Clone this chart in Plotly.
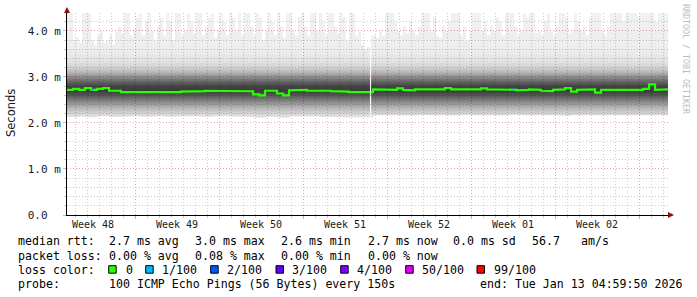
import plotly.graph_objects as go

# ---------------- data ----------------
WEEK_LABELS = ["Week 48", "Week 49", "Week 50", "Week 51", "Week 52", "Week 01", "Week 02"]
FIRST_WEEK_START = -1.333      # day offset (from chart start) of the Monday starting "Week 48"
CHART_DAYS = 50.08             # length of the time axis in days
SAMPLE_DAYS = 0.5              # interval of MEDIAN_RTT / MIN_RTT / LOSS samples
MAX_SAMPLE_DAYS = 0.25         # interval of MAX_RTT samples
GAP = (25.25, 25.34)           # no data in this interval (days)

Y_TICKS = [0, 1, 2, 3, 4]
Y_TICK_TEXT = ["0.0\u00a0\u00a0", "1.0 m", "2.0 m", "3.0 m", "4.0 m"]
Y_MAX = 4.39

# median round-trip time, ms
MEDIAN_RTT = [
    2.72, 2.74, 2.72, 2.76, 2.72, 2.74, 2.76, 2.70, 2.70, 2.67,
    2.66, 2.66, 2.66, 2.66, 2.66, 2.66, 2.66, 2.67, 2.67, 2.68,
    2.68, 2.68, 2.69, 2.70, 2.70, 2.70, 2.70, 2.70, 2.69, 2.70,
    2.69, 2.62, 2.60, 2.70, 2.70, 2.64, 2.60, 2.71, 2.72, 2.72,
    2.70, 2.71, 2.70, 2.70, 2.69, 2.69, 2.68, 2.67, 2.67, 2.67,
    2.67, 2.73, 2.73, 2.73, 2.72, 2.75, 2.72, 2.71, 2.73, 2.72,
    2.73, 2.72, 2.73, 2.76, 2.73, 2.73, 2.74, 2.73, 2.73, 2.75,
    2.73, 2.73, 2.72, 2.72, 2.72, 2.71, 2.72, 2.73, 2.72, 2.70,
    2.69, 2.72, 2.73, 2.76, 2.68, 2.72, 2.73, 2.73, 2.66, 2.72,
    2.72, 2.73, 2.72, 2.73, 2.73, 2.72, 2.74, 2.84, 2.72, 2.73,
    2.73,
]

# lost pings (out of 100) per sample
LOSS = [0] * 101
LOSS[4] = 1
LOSS[74] = 1

# fastest ping per sample, ms
MIN_RTT = [
    2.13, 2.12, 2.14, 2.13, 2.12, 2.14, 2.15, 2.13, 2.14, 2.13,
    2.14, 2.15, 2.14, 2.13, 2.14, 2.15, 2.14, 2.13, 2.14, 2.15,
    2.14, 2.15, 2.14, 2.13, 2.14, 2.15, 2.15, 2.14, 2.13, 2.14,
    2.13, 2.12, 2.11, 2.13, 2.13, 2.12, 2.11, 2.14, 2.14, 2.13,
    2.13, 2.14, 2.13, 2.12, 2.13, 2.12, 2.12, 2.11, 2.12, 2.12,
    2.12, 2.17, 2.16, 2.17, 2.16, 2.17, 2.17, 2.16, 2.17, 2.18,
    2.17, 2.16, 2.17, 2.17, 2.16, 2.17, 2.18, 2.17, 2.17, 2.16,
    2.17, 2.17, 2.16, 2.17, 2.17, 2.18, 2.17, 2.16, 2.17, 2.17,
    2.16, 2.17, 2.16, 2.15, 2.17, 2.17, 2.16, 2.17, 2.17, 2.16,
    2.17, 2.17, 2.16, 2.17, 2.17, 2.16, 2.17, 2.17, 2.16, 2.17,
    2.17,
]

# slowest ping per sample, ms (values above the axis top are clipped)
MAX_RTT = [
    4.6, 4.6, 3.8, 3.85, 3.75, 4.6, 4.6, 4.5, 3.8, 3.7,
    3.9, 4.0, 3.75, 3.8, 3.9, 3.7, 4.0, 4.1, 3.95, 4.5,
    4.6, 3.9, 4.05, 4.3, 4.4, 3.9, 4.2, 4.6, 4.0, 3.8,
    4.1, 4.3, 3.9, 4.6, 4.2, 3.8, 4.4, 4.6, 3.9, 4.0,
    4.6, 4.2, 3.95, 4.4, 4.6, 3.9, 4.1, 4.3, 4.6, 3.85,
    4.0, 4.5, 4.2, 3.9, 4.6, 4.3, 4.0, 4.4, 3.9, 4.6,
    4.6, 4.1, 3.9, 4.6, 4.3, 3.8, 4.0, 4.6, 4.2, 3.9,
    4.5, 4.1, 3.85, 4.6, 4.6, 4.0, 3.9, 4.3, 4.6, 4.1,
    3.9, 4.6, 4.4, 4.0, 4.6, 4.2, 3.9, 4.5, 4.6, 4.1,
    3.95, 4.6, 4.3, 3.8, 4.6, 4.5, 3.9, 4.0, 3.7, 3.6,
    3.65, 3.9,
    3.9, 3.85, 4.0, 3.9, 4.6, 4.5, 4.6, 4.2, 4.0, 3.9,
    4.1, 3.95, 4.2, 4.0, 3.9, 4.1, 4.6, 4.5,
    4.6, 4.0, 4.3, 3.9, 3.85, 4.1, 4.0, 4.2, 4.6, 4.6,
    4.4, 3.9, 4.1, 3.8, 4.0, 4.6, 4.5, 4.6, 4.0, 4.2,
    3.9, 4.1, 4.0, 4.3, 4.2, 3.9, 4.6, 4.4, 4.6, 4.1,
    3.9, 4.0, 4.6, 4.3, 4.6, 4.5, 3.95, 4.0, 3.9, 4.2,
    4.6, 4.0, 3.9, 4.1, 4.6, 4.6, 4.3, 3.95, 4.0, 4.6,
    4.2, 4.0, 4.1, 3.9, 4.3, 4.6, 4.5, 4.6, 4.0, 3.9,
    4.1, 4.6, 4.6, 4.4, 4.6, 4.2, 4.6, 4.6, 4.5, 4.6,
    4.3, 4.6, 4.6, 4.4, 4.6, 4.6, 4.2, 4.6, 4.6, 4.5,
    4.6,
]

LOSS_LEVELS = [0, 1, 2, 3, 4, 50, 99]
LOSS_LABELS = ["0", "1/100", "2/100", "3/100", "4/100", "50/100", "99/100"]
LOSS_COLORS = ["#26ff00", "#00b8ff", "#0059ff", "#5e00ff", "#7e00ff", "#dd00ff", "#ff0000"]

LEGEND_ROWS = [
    [("median rtt:", 16), ("2.7 ms avg", 107.3), ("3.0 ms max", 193.3), ("2.6 ms min", 279.3),
     ("2.7 ms now", 366), ("0.0 ms sd", 451), ("56.7", 530), ("am/s", 579.3)],
    [("packet loss:", 16), ("0.00 % avg", 107.3), ("0.08 % max", 193.3), ("0.00 % min", 279.3),
     ("0.00 % now", 366)],
    [("loss color:", 16)],
    [("probe:", 16), ("100 ICMP Echo Pings (56 Bytes) every 150s", 107.3),
     ("end: Tue Jan 13 04:59:50 2026", 478.3)],
]
LEGEND_ROW_Y = [241.5, 255.5, 269.5, 283.5]
SWATCH_X = [108.7, 145.7, 210.7, 276, 340.7, 405.7, 477]
SWATCH_LABEL_X = [123.5, 160, 225, 290, 355, 420, 491.7]

# smoke shading: (ms, darkness)
SMOKE_SHADES = [(2.10, 0.09), (2.20, 0.16), (2.30, 0.26), (2.40, 0.38), (2.50, 0.52),
                (2.60, 0.66), (2.70, 0.77), (2.80, 0.73), (2.90, 0.60), (3.00, 0.44),
                (3.10, 0.29), (3.20, 0.18), (3.35, 0.11), (3.60, 0.07), (4.40, 0.055)]

# ---------------- geometry ----------------
W, H = 697, 297
ML, MR, MT, MB = 67, 29, 13, 82
PW, PH = W - ML - MR, H - MT - MB
MONO = "DejaVu Sans Mono"


def pxx(x):
    return (x - ML) / PW


def pxy(y):
    return (H - MB - y) / PH


def steps(values, dt, lo, hi):
    xs, ys = [], []
    for i, v in enumerate(values):
        a, b = max(i * dt, lo), min((i + 1) * dt, hi, CHART_DAYS)
        if b <= a:
            continue
        xs += [a, b]
        ys += [v, v]
    return xs, ys


segments = [(0.0, GAP[0]), (GAP[1], CHART_DAYS)]

fig = go.Figure()

lo_s, hi_s = SMOKE_SHADES[0][0], SMOKE_SHADES[-1][0]
colorscale = [[(ms - lo_s) / (hi_s - lo_s), f"rgba(0,0,0,{a})"] for ms, a in SMOKE_SHADES]

for lo, hi in segments:
    xu, yu = steps(MAX_RTT, MAX_SAMPLE_DAYS, lo, hi)
    xl, yl = steps(MIN_RTT, SAMPLE_DAYS, lo, hi)
    fig.add_trace(go.Scatter(
        x=xu + xl[::-1], y=yu + yl[::-1], mode="lines", fill="toself",
        line=dict(width=0), fillgradient=dict(type="vertical", colorscale=colorscale,
                                              start=lo_s, stop=hi_s),
        hoverinfo="skip", showlegend=False))

for lo, hi in segments:
    xm, ym = steps(MEDIAN_RTT, SAMPLE_DAYS, lo, hi)
    fig.add_trace(go.Scatter(x=xm, y=ym, mode="lines",
                             line=dict(color=LOSS_COLORS[0], width=2.2),
                             hoverinfo="skip", showlegend=False))

# loss-coloured pieces of the median line
for lvl_i in range(1, len(LOSS_LEVELS)):
    lx, ly = [], []
    for i, l in enumerate(LOSS):
        nxt = LOSS_LEVELS[lvl_i + 1] if lvl_i + 1 < len(LOSS_LEVELS) else 101
        if LOSS_LEVELS[lvl_i] <= l < nxt:
            a = i * SAMPLE_DAYS
            lx += [a, a + SAMPLE_DAYS * 0.4, None]
            ly += [MEDIAN_RTT[i], MEDIAN_RTT[i], None]
    if lx:
        fig.add_trace(go.Scatter(x=lx, y=ly, mode="lines",
                                 line=dict(color=LOSS_COLORS[lvl_i], width=2.2),
                                 hoverinfo="skip", showlegend=False))

week_starts = [FIRST_WEEK_START + 7 * k for k in range(len(WEEK_LABELS) + 1)]
week_centers = [s + 3.5 for s in week_starts[:len(WEEK_LABELS)]]
boundaries = [s for s in week_starts if 0 < s < CHART_DAYS]
day_lines = [FIRST_WEEK_START + d for d in range(int(CHART_DAYS) + 3)
             if 0 < FIRST_WEEK_START + d < CHART_DAYS and d % 7 != 0]

fig.add_trace(go.Scatter(x=[week_centers[0]], y=[0], xaxis="x2", mode="markers",
                         marker=dict(opacity=0), hoverinfo="skip", showlegend=False))

MINOR_GRID = "rgba(120,120,120,0.38)"
MAJOR_GRID = "rgba(200,60,60,0.45)"
DASH = "1px,2px"

fig.update_layout(
    width=W, height=H, margin=dict(l=ML, r=MR, t=MT, b=MB, autoexpand=False),
    paper_bgcolor="white", plot_bgcolor="white", showlegend=False,
    xaxis=dict(range=[0, CHART_DAYS], tickmode="array", tickvals=boundaries,
               ticktext=["" for _ in boundaries], showgrid=True, gridcolor=MAJOR_GRID,
               griddash=DASH, gridwidth=1, ticks="outside", ticklen=3,
               tickcolor=MAJOR_GRID, showline=True, linecolor="black", linewidth=1,
               zeroline=False,
               minor=dict(tickmode="array", tickvals=day_lines, showgrid=True,
                          gridcolor=MINOR_GRID, griddash=DASH, gridwidth=1,
                          ticks="outside", ticklen=2, tickcolor=MINOR_GRID)),
    xaxis2=dict(range=[0, CHART_DAYS], overlaying="x", anchor="y", side="bottom",
                tickmode="array", tickvals=week_centers, ticktext=WEEK_LABELS,
                showgrid=False, ticks="", showline=False, zeroline=False,
                ticklabelstandoff=2,
                tickfont=dict(family=MONO, size=10, color="#1a1a1a")),
    yaxis=dict(range=[0, Y_MAX], tickmode="array", tickvals=Y_TICKS, ticktext=Y_TICK_TEXT,
               showgrid=True, gridcolor=MAJOR_GRID, griddash=DASH, gridwidth=1,
               ticks="outside", ticklen=3, tickcolor=MAJOR_GRID,
               showline=True, linecolor="black", linewidth=1, zeroline=False,
               tickfont=dict(family=MONO, size=11, color="#1a1a1a"),
               minor=dict(tickmode="array",
                          tickvals=[round(0.2 * k, 1) for k in range(1, 22) if k % 5],
                          showgrid=True, gridcolor=MINOR_GRID, griddash=DASH,
                          gridwidth=1, ticks="outside", ticklen=2, tickcolor=MINOR_GRID)),
)

ann = []
# y-axis title
ann.append(dict(text="Seconds", x=pxx(11), y=pxy(113), xref="paper", yref="paper",
                textangle=-90, showarrow=False, xanchor="center", yanchor="middle",
                font=dict(family="DejaVu Sans", size=11.5, color="#1a1a1a")))
# watermark
ann.append(dict(text="RRDTOOL / TOBI OETIKER", x=pxx(686), y=pxy(59), xref="paper",
                yref="paper", textangle=90, showarrow=False, xanchor="center",
                yanchor="middle", font=dict(family=MONO, size=8.3, color="#bdbdbd")))
# axis arrows
ann.append(dict(x=0, y=pxy(7), xref="paper", yref="paper", ax=0, ay=7, text="",
                showarrow=True, arrowhead=2, arrowsize=1.2, arrowwidth=1,
                arrowcolor="#8b1010", standoff=0))
ann.append(dict(x=pxx(674), y=0, xref="paper", yref="paper", ax=-7, ay=0, text="",
                showarrow=True, arrowhead=2, arrowsize=1.2, arrowwidth=1,
                arrowcolor="#8b1010", standoff=0))
# legend text
for row, yy in zip(LEGEND_ROWS, LEGEND_ROW_Y):
    for txt, xx in row:
        ann.append(dict(text=txt.replace(" ", "\u00a0"), x=pxx(xx), y=pxy(yy), xref="paper",
                        yref="paper", showarrow=False, xanchor="left", yanchor="middle",
                        font=dict(family=MONO, size=11.6, color="black")))
for lab, xx in zip(LOSS_LABELS, SWATCH_LABEL_X):
    ann.append(dict(text=lab, x=pxx(xx), y=pxy(LEGEND_ROW_Y[2]), xref="paper", yref="paper",
                    showarrow=False, xanchor="left", yanchor="middle",
                    font=dict(family=MONO, size=11.6, color="black")))
fig.update_layout(annotations=ann)

shapes = []
for col, xx in zip(LOSS_COLORS, SWATCH_X):
    shapes.append(dict(type="rect", xref="paper", yref="paper",
                       x0=pxx(xx), x1=pxx(xx + 7.5), y0=pxy(LEGEND_ROW_Y[2] - 3.8),
                       y1=pxy(LEGEND_ROW_Y[2] + 3.7), fillcolor=col,
                       line=dict(color="black", width=1)))
fig.update_layout(shapes=shapes)

fig.write_html("out.html")
